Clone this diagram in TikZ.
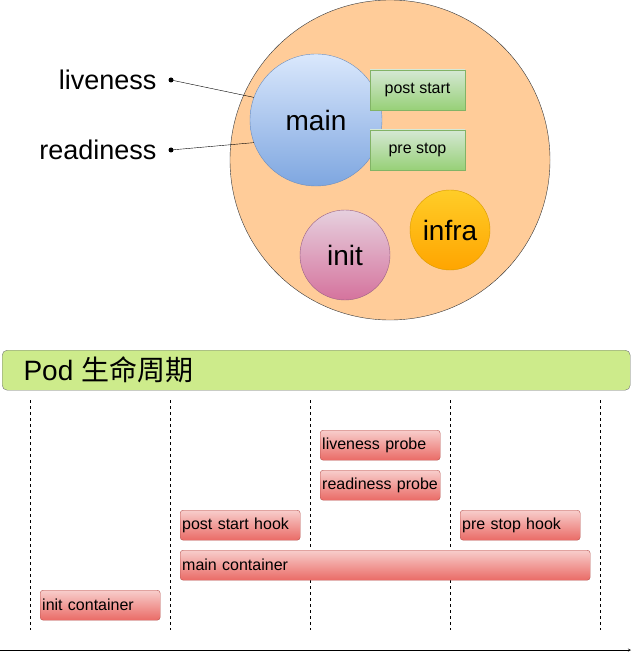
\documentclass[tikz,border=0pt]{standalone}
\usepackage{fontspec}
\setmainfont{Liberation Sans}
\newfontfamily\cjk{Noto Sans CJK SC}
\definecolor{redT}{HTML}{F8CECC}\definecolor{redB}{HTML}{EA6B66}\definecolor{redS}{HTML}{B85450}
\definecolor{grT}{HTML}{D5E8D4}\definecolor{grB}{HTML}{97D077}\definecolor{grS}{HTML}{82B366}
\definecolor{blT}{HTML}{DAE8FC}\definecolor{blB}{HTML}{7EA6E0}\definecolor{blS}{HTML}{6C8EBF}
\definecolor{puT}{HTML}{E6D0DE}\definecolor{puB}{HTML}{D5739D}\definecolor{puS}{HTML}{996185}
\definecolor{orT}{HTML}{FFCD28}\definecolor{orB}{HTML}{FFA500}\definecolor{orS}{HTML}{D79B00}
\definecolor{pod}{HTML}{FFCC99}\definecolor{podS}{HTML}{36393D}
\definecolor{barG}{HTML}{CDEB8B}
\begin{document}
\begin{tikzpicture}[x=1pt,y=-1pt,
  bar/.style={draw=redS,top color=redT,bottom color=redB,rounded corners=3pt,anchor=north west,inner sep=2pt,font=\fontsize{16}{18}\selectfont},
  hook/.style={draw=grS,top color=grT,bottom color=grB,minimum width=95pt,minimum height=40pt,font=\fontsize{16}{18}\selectfont,inner sep=0},
  big/.style={font=\fontsize{28}{32}\selectfont},
  lbl/.style={font=\fontsize{27}{32}\selectfont,anchor=east},
  dl/.style={dashed,line width=0.5pt}]
\useasboundingbox (0,0) rectangle (632,655);
\node[circle,draw=podS,fill=pod,minimum size=320pt,inner sep=0] (pod) at (390,160) {};
\node[circle,draw=blS,top color=blT,bottom color=blB,minimum size=132pt,inner sep=0,big] (main) at (316,120) {main};
\node[hook] (ps) at (417.5,90) {post start};
\node[hook] (pr) at (417.5,150) {pre stop};
\node[circle,draw=puS,top color=puT,bottom color=puB,minimum size=90pt,inner sep=0,big] (init) at (345,255) {init};
\node[circle,draw=orS,top color=orT,bottom color=orB,minimum size=80pt,inner sep=0,big] (infra) at (450,230) {infra};
\node[lbl] (lv) at (160,80) {liveness};
\node[lbl] (rd) at (160,150) {readiness};
\coordinate (lvd) at (171,80); \coordinate (rdd) at (171,150);
\fill (lvd) circle (2.5pt); \fill (rdd) circle (2.5pt);
\draw (lvd) -- (main.160);
\draw (rdd) -- (main.200);
\node[draw=podS!70,fill=barG,rounded corners=5pt,minimum width=628pt,minimum height=40pt,anchor=north west,inner sep=0] (podbar) at (2,350) {};
\node[anchor=west,font=\fontsize{28}{32}\selectfont] (podt) at (20,370) {Pod {\cjk 生命周期}};
\foreach \x/\n in {30/a,170/b,310/c,450/d,600/e}{
  \coordinate (t\n) at (\x,400); \coordinate (b\n) at (\x,630);
  \draw[dl] (t\n) -- (b\n);}
\node[bar,minimum width=120pt,minimum height=30pt,text width=116pt] (lp) at (320,430) {liveness probe};
\node[bar,minimum width=120pt,minimum height=30pt,text width=116pt] (rp) at (320,470) {readiness probe};
\node[bar,minimum width=120pt,minimum height=30pt,text width=116pt] (psh) at (180,510) {post start hook};
\node[bar,minimum width=120pt,minimum height=30pt,text width=116pt] (prh) at (460,510) {pre stop hook};
\node[bar,minimum width=410pt,minimum height=30pt,text width=406pt] (mc) at (180,550) {main container};
\node[bar,minimum width=120pt,minimum height=30pt,text width=116pt] (ic) at (40,590) {init container};
\coordinate (as) at (0,650); \coordinate (ae) at (631,650);
\draw[-stealth] (as) -- (ae);
\end{tikzpicture}
\end{document}
